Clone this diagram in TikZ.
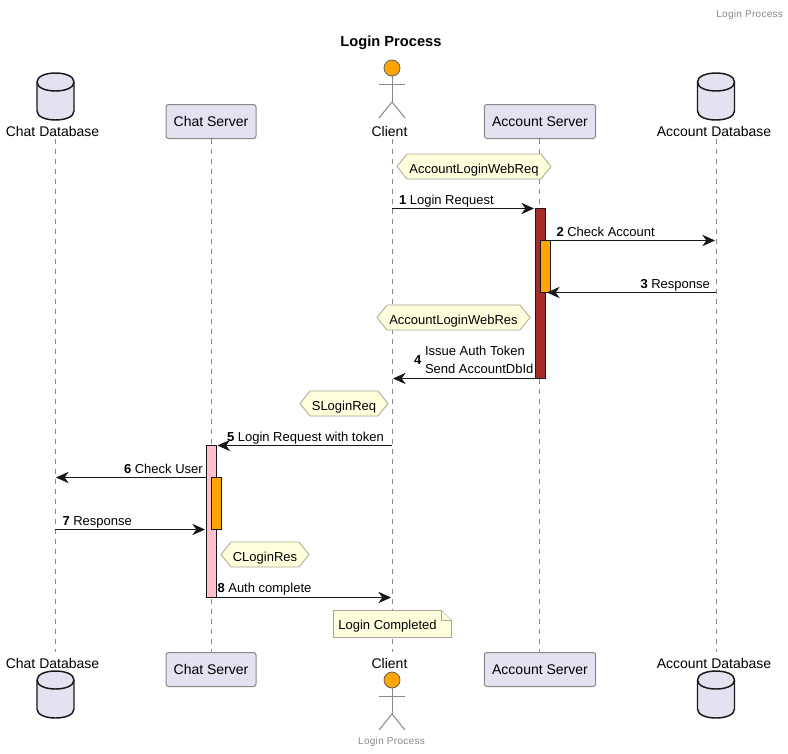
\documentclass[tikz,border=0pt]{standalone}
\usepackage{fontspec}
\setmainfont{Liberation Sans}
\usetikzlibrary{arrows.meta,calc}
\definecolor{pbox}{HTML}{E2E2F0}
\definecolor{pline}{HTML}{181818}
\definecolor{pgray}{HTML}{888888}
\definecolor{pnote}{HTML}{FEFFDD}
\definecolor{pnoteline}{HTML}{A8A890}
\definecolor{porange}{HTML}{FFA500}
\definecolor{pbrown}{HTML}{A52A2A}
\definecolor{ppink}{HTML}{FFC0CB}
\newfontfamily\spaced[LetterSpace=3]{Liberation Sans}
\tikzset{
  x=0.75pt,y=-0.75pt,
  every node/.style={inner sep=0pt,outer sep=0pt},
  part/.style={draw=pgray,fill=pbox,line width=0.75pt,rounded corners=1.9pt,anchor=center,font=\fontsize{10.5pt}{12pt}\selectfont,minimum height=25.5pt},
  plabel/.style={font=\fontsize{10.5pt}{12pt}\selectfont,text=black,anchor=center},
  msg/.style={font=\fontsize{9.75pt}{13.5pt}\selectfont,text=black,anchor=base west,align=left},
  life/.style={draw=pgray,line width=0.75pt,dash pattern=on 3.75pt off 3.75pt},
  conn/.style={draw=pline,line width=0.75pt,-{Stealth[length=9.5pt,width=8.5pt,inset=3pt]}},
  act/.style={draw=pline,line width=0.75pt},
  dbshape/.style={draw=pline,fill=pbox,line width=1.1pt},
  stick/.style={draw=pgray,line width=0.75pt},
  notehex/.style={draw=pnoteline,fill=pnote,line width=0.6pt},
  notetext/.style={font=\fontsize{9.75pt}{12pt}\selectfont,text=black,anchor=center},
  tiny/.style={font=\spaced\fontsize{7.5pt}{9pt}\selectfont,text=pgray},
}
\newcommand{\dbdraw}[2]{%
  \draw[dbshape] (#1-18.5,#2+9) .. controls (#1-18.5,#2-3) and (#1+18.5,#2-3) .. (#1+18.5,#2+9)
    -- (#1+18.5,#2+38) .. controls (#1+18.5,#2+50) and (#1-18.5,#2+50) .. (#1-18.5,#2+38) -- cycle;
  \draw[dbshape] (#1-18.5,#2+9) .. controls (#1-18.5,#2+21) and (#1+18.5,#2+21) .. (#1+18.5,#2+9);
}
\newcommand{\actordraw}[2]{%
  \draw[stick] (#1,#2+8) -- (#1,#2+34);
  \draw[stick] (#1-13,#2+16) -- (#1+13,#2+16);
  \draw[stick] (#1-13,#2+50) -- (#1,#2+34) -- (#1+13,#2+50);
  \draw[fill=porange,draw=pgray!70!black,line width=0.6pt] (#1,#2) circle (6pt);
}
\newcommand{\hexnote}[5]{%
  \draw[notehex] (#2,#4+12.5) -- (#2+10,#4) -- (#3-10,#4) -- (#3,#4+12.5) -- (#3-10,#4+25) -- (#2+10,#4+25) -- cycle;
  \node[notetext] (#1) at ({(#2+#3)/2},#4+16) {#5};
}
\begin{document}
\begin{tikzpicture}
\useasboundingbox (0,0) rectangle (788,753);
\fill[white] (0,0) rectangle (788,753);

% lifeline ends
\coordinate (cdbT) at (55,139); \coordinate (cdbB) at (55,652);
\coordinate (csT) at (211,139); \coordinate (csB) at (211,652);
\coordinate (clT) at (392,139); \coordinate (clB) at (392,652);
\coordinate (asT) at (539,139); \coordinate (asB) at (539,652);
\coordinate (adbT) at (716,139); \coordinate (adbB) at (716,652);
\draw[life] (cdbT) -- (cdbB);
\draw[life] (csT) -- (csB);
\draw[life] (clT) -- (clB);
\draw[life] (asT) -- (asB);
\draw[life] (adbT) -- (adbB);

% title, header, footer
\node[tiny,anchor=east] (hdr) at (783,14.5) {Login Process};
\node[font=\bfseries\fontsize{11pt}{12pt}\selectfont,anchor=center] (ttl) at (391,42.5) {Login Process};
\node[tiny,anchor=center] (ftr) at (391.5,741.5) {Login Process};

% top participants
\dbdraw{55.5}{73}
\node[plabel] (cdbLt) at (52.5,131) {Chat Database};
\node[part,minimum width=67.5pt] (csTop) at (211,121.5) {\raisebox{-0.8pt}{Chat Server}};
\actordraw{392}{68}
\node[plabel] (clLt) at (389.5,131) {Client};
\node[part,minimum width=83.5pt] (asTop) at (540,121.5) {\raisebox{-0.8pt}{Account Server}};
\dbdraw{716}{73}
\node[plabel] (adbLt) at (714,131) {Account Database};

% bottom participants
\node[plabel] (cdbLb) at (52.5,663) {Chat Database};
\dbdraw{55.5}{671}
\node[part,minimum width=67.5pt] (csBot) at (211,669.5) {\raisebox{-0.8pt}{Chat Server}};
\node[plabel] (clLb) at (389.5,663) {Client};
\actordraw{392}{680}
\node[part,minimum width=83.5pt] (asBot) at (540,669.5) {\raisebox{-0.8pt}{Account Server}};
\node[plabel] (adbLb) at (714,663) {Account Database};
\dbdraw{716}{671}

% activations
\draw[act,fill=pbrown] (535.5,208.5) rectangle (545.5,378.5);
\draw[act,fill=porange] (540.5,240.5) rectangle (550.5,292.5);
\draw[act,fill=ppink] (206.5,445.5) rectangle (216.5,597.5);
\draw[act,fill=porange] (211.5,477.5) rectangle (221.5,529.5);

% message anchors
\coordinate (m1a) at (392,208.5); \coordinate (m1b) at (534,208.5);
\coordinate (m2a) at (550.5,240.5); \coordinate (m2b) at (715,240.5);
\coordinate (m3a) at (716,292.5); \coordinate (m3b) at (547,292.5);
\coordinate (m4a) at (535.5,378.5); \coordinate (m4b) at (393,378.5);
\coordinate (m5a) at (392,445.5); \coordinate (m5b) at (217.5,445.5);
\coordinate (m6a) at (206.5,477.5); \coordinate (m6b) at (56,477.5);
\coordinate (m7a) at (55,529.5); \coordinate (m7b) at (205,529.5);
\coordinate (m8a) at (216.5,597.5); \coordinate (m8b) at (391,597.5);
\draw[conn] (m1a) -- (m1b);
\draw[conn] (m2a) -- (m2b);
\draw[conn] (m3a) -- (m3b);
\draw[conn] (m4a) -- (m4b);
\draw[conn] (m5a) -- (m5b);
\draw[conn] (m6a) -- (m6b);
\draw[conn] (m7a) -- (m7b);
\draw[conn] (m8a) -- (m8b);

% message labels
\node[msg] (l1) at (399,204) {\textbf{1} Login Request};
\node[msg] (l2) at (556.5,236) {\textbf{2} Check Account};
\node[msg] (l3) at (640.5,288) {\textbf{3} Response};
\node[msg] (l4n) at (414,364) {\textbf{4}};
\node[msg] (l4a) at (425,355.5) {Issue Auth Token};
\node[msg] (l4b) at (425,373.5) {Send AccountDbId};
\node[msg] (l5) at (227,441) {\textbf{5} Login Request with token};
\node[msg] (l6) at (124,473) {\textbf{6} Check User};
\node[msg] (l7) at (62.5,525) {\textbf{7} Response};
\node[msg] (l8) at (217.5,592.5) {\textbf{8} Auth complete};

% hexagon notes
\hexnote{n1}{397}{551}{154}{AccountLoginWebReq}
\hexnote{n2}{377}{530}{305}{AccountLoginWebRes}
\hexnote{n3}{300}{388}{391}{SLoginReq}
\hexnote{n4}{221}{309}{542}{CLoginRes}

% note
\draw[notehex] (333.5,610.5) -- (441.5,610.5) -- (451.5,620.5) -- (451.5,637.5) -- (333.5,637.5) -- cycle;
\draw[notehex] (441.5,610.5) -- (441.5,620.5) -- (451.5,620.5);
\node[notetext] (n5) at (387.5,626.5) {Login Completed};
\end{tikzpicture}
\end{document}
